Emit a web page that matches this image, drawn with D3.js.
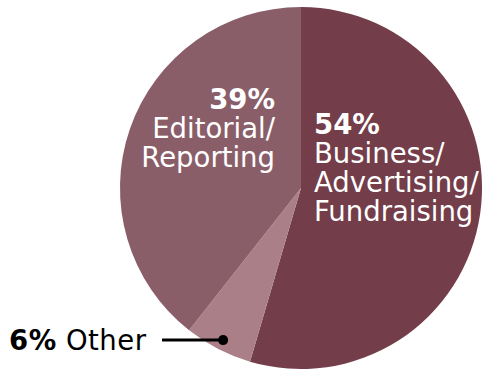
<!DOCTYPE html>
<html>
<head>
<meta charset="utf-8">
<script src="https://cdn.jsdelivr.net/npm/d3@7/dist/d3.min.js"></script>
<style>
  html, body { margin: 0; padding: 0; background: #fff; }
  svg { display: block; font-family: "DejaVu Sans", Verdana, sans-serif; }
</style>
</head>
<body>
<svg id="chart" width="482" height="370"></svg>
<script>
// Share of newsroom staff by role, clockwise from 12 o'clock
const categories = ["Business/Advertising/Fundraising", "Other", "Editorial/Reporting"];
const values = [54, 6, 39];
const colors = ["#733d49", "#aa7f88", "#8a5e69"];

const width = 482, height = 370;
const cx = 301, cy = 188, radius = 181;

const svg = d3.select("#chart");
const g = svg.append("g").attr("transform", `translate(${cx},${cy})`);

const pie = d3.pie().sort(null).value(d => d.value);
const arcs = pie(categories.map((c, i) => ({ name: c, value: values[i], color: colors[i] })));
const arc = d3.arc().innerRadius(0).outerRadius(radius);

g.selectAll("path.slice")
  .data(arcs)
  .join("path")
  .attr("class", "slice")
  .attr("d", arc)
  .attr("fill", d => d.data.color);

const fs = 27.5, lh = 29;

// Business label (inside, left aligned)
const biz = g.append("text")
  .attr("fill", "#fff")
  .attr("font-size", fs)
  .attr("text-anchor", "start")
  .attr("transform", `translate(${314 - cx},${134 - cy})`);
biz.append("tspan").attr("x", 0).attr("y", 0).attr("font-weight", "bold").text(values[0] + "%");
["Business/", "Advertising/", "Fundraising"].forEach((t, i) => {
  biz.append("tspan").attr("x", 0).attr("y", lh * (i + 1)).text(t);
});

// Editorial label (inside, right aligned)
const ed = g.append("text")
  .attr("fill", "#fff")
  .attr("font-size", fs)
  .attr("text-anchor", "end")
  .attr("transform", `translate(${275 - cx},${109 - cy})`);
ed.append("tspan").attr("x", 0).attr("y", 0).attr("font-weight", "bold").text(values[2] + "%");
["Editorial/", "Reporting"].forEach((t, i) => {
  ed.append("tspan").attr("x", 0).attr("y", lh * (i + 1)).text(t);
});

// Other: callout outside with leader line to the slice
const other = arcs[1];
const dotArc = d3.arc().innerRadius(170).outerRadius(170);
const [dx, dy] = dotArc.centroid(other);
g.append("line")
  .attr("x1", 162 - cx).attr("y1", dy + 1)
  .attr("x2", dx).attr("y2", dy + 1)
  .attr("stroke", "#000").attr("stroke-width", 3);
g.append("circle")
  .attr("cx", dx).attr("cy", dy + 1).attr("r", 5)
  .attr("fill", "#000");

const ot = svg.append("text")
  .attr("x", 9).attr("y", 350)
  .attr("font-size", fs)
  .attr("letter-spacing", 0.5)
  .attr("fill", "#000");
ot.append("tspan").attr("font-weight", "bold").text(values[1] + "%");
ot.append("tspan").text(" Other");
</script>
</body>
</html>
